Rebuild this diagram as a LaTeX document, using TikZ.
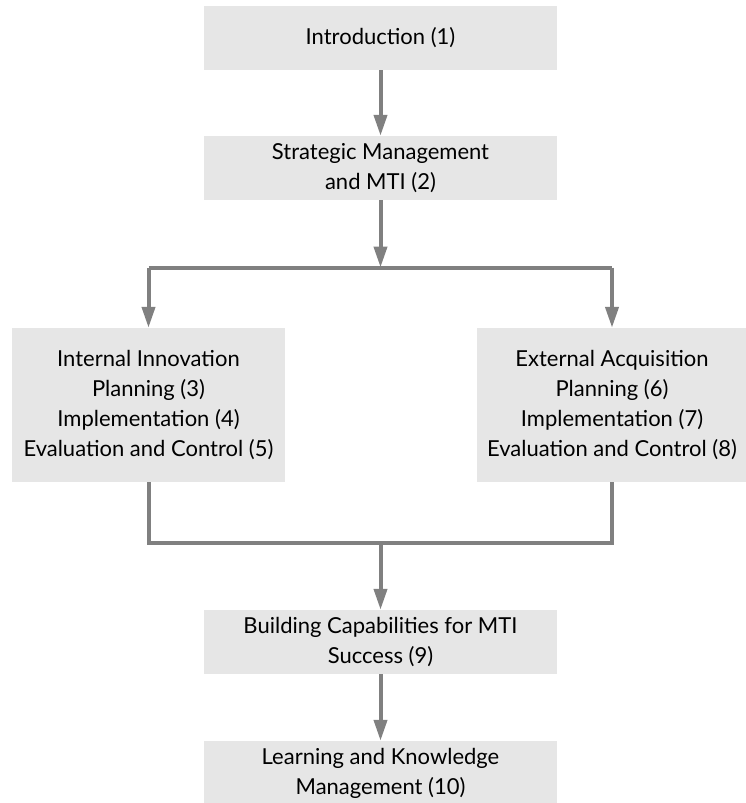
\documentclass[tikz,border=0pt]{standalone}
\usepackage{xcolor}
\usepackage{fontspec}
\setmainfont{Lato}
\usepackage{tikz}
\usetikzlibrary{arrows.meta}

\definecolor{boxgray}{HTML}{E6E6E6}
\definecolor{linegray}{HTML}{808080}

\begin{document}
	\begin{tikzpicture}[x=1pt,y=1pt,
			box/.style={fill=boxgray, inner sep=0pt, align=center,
				font=\fontsize{22}{30}\selectfont, minimum width=353pt, minimum height=64pt},
			conn/.style={draw=linegray, line width=4pt},
			arr/.style={conn, -{Triangle[width=13pt,length=21pt]}}]
		\useasboundingbox (0,0) rectangle (746,-803);
		\node[box] (n1) at (380.5,-38) {Introduction (1)};
		\node[box] (n2) at (380.5,-168) {Strategic Management\\and MTI (2)};
		\node[box, minimum width=273pt, minimum height=154pt] (n3) at (148.5,-405)
			{Internal Innovation\\Planning (3)\\Implementation (4)\\Evaluation and Control (5)};
		\node[box, minimum width=270pt, minimum height=154pt] (n6) at (612,-405)
			{External Acquisition\\Planning (6)\\Implementation (7)\\Evaluation and Control (8)};
		\node[box] (n9) at (380.5,-642) {Building Capabilities for MTI\\Success (9)};
		\node[box] (n10) at (380.5,-773) {Learning and Knowledge\\Management (10)};

		\coordinate (split) at (380.5,-267.5);
		\coordinate (join) at (380.5,-543);

		\draw[arr] (n1) -- (n2);
		\draw[arr] (n2) -- (split);
		\draw[conn] (split -| n3) -- (split -| n6);
		\draw[arr] (split -| n3) -- (n3);
		\draw[arr] (split -| n6) -- (n6);
		\draw[conn] (n3) |- (join) -| (n6);
		\draw[arr] (join) -- (n9);
		\draw[arr] (n9) -- (n10);
	\end{tikzpicture}
\end{document}
